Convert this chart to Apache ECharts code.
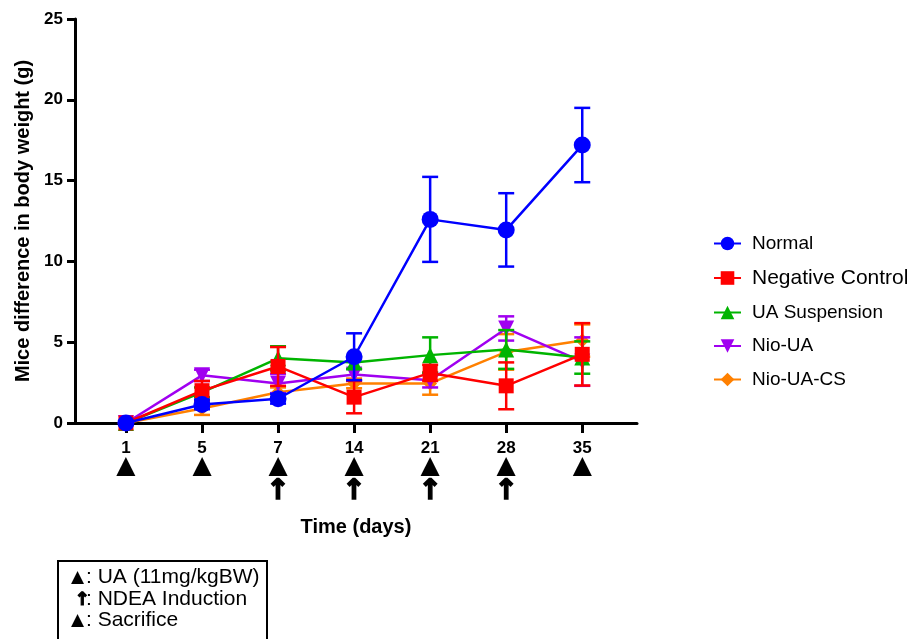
<!DOCTYPE html>
<html>
<head>
<meta charset="utf-8">
<script src="https://cdn.jsdelivr.net/npm/echarts@6/dist/echarts.min.js"></script>
<style>html,body{margin:0;padding:0;background:#fff}#c{width:918px;height:639px}</style>
</head>
<body>
<div id="c"></div>
<script>
const categories = ['1', '5', '7', '14', '21', '28', '35'];
const uaDoseDays = ['1', '5', '7', '14', '21', '28', '35'];
const ndeaDays = ['7', '14', '21', '28'];
const yTicks = [0, 5, 10, 15, 20, 25];

const normal = [0, 1.15, 1.5, 4.1, 12.6, 11.95, 17.2];
const normalErr = [0, 0.3, 0.3, 1.45, 2.63, 2.27, 2.3];
const negative = [0, 2.0, 3.5, 1.6, 3.1, 2.3, 4.25];
const negativeErr = [0, 0.6, 1.2, 1.0, 0.5, 1.45, 1.93];
const uaSusp = [0, 1.9, 4.0, 3.75, 4.2, 4.55, 4.05];
const uaSuspErr = [0, 0.3, 0.75, 0.4, 1.1, 1.2, 1.0];
const nioUA = [0, 2.95, 2.45, 3.0, 2.65, 5.85, 3.8];
const nioUAErr = [0, 0.35, 0.6, 0.35, 0.45, 0.75, 1.5];
const nioUACS = [0, 0.9, 1.9, 2.45, 2.45, 4.4, 5.1];
const nioUACSErr = [0, 0.4, 0.3, 0.3, 0.7, 1.1, 1.0];

const groups = [
  {name: 'Normal', vals: normal, err: normalErr, color: '#0000FF', symbol: 'circle', size: 17, rot: 0, z: 10},
  {name: 'Negative Control', vals: negative, err: negativeErr, color: '#FF0000', symbol: 'rect', size: 15, rot: 0, z: 9},
  {name: 'UA Suspension', vals: uaSusp, err: uaSuspErr, color: '#00B400', symbol: 'triangle', size: 16, rot: 0, z: 8},
  {name: 'Nio-UA', vals: nioUA, err: nioUAErr, color: '#A000F0', symbol: 'triangle', size: 16, rot: 180, z: 7},
  {name: 'Nio-UA-CS', vals: nioUACS, err: nioUACSErr, color: '#FF8000', symbol: 'diamond', size: 14, rot: 0, z: 6}
];

const chart = echarts.init(document.getElementById('c'));
const idx = categories.map((c, i) => i);

const series = [];
groups.forEach(g => {
  series.push({
    name: g.name, type: 'line', z: g.z,
    data: g.vals.map((v, i) => [i, v]),
    symbol: g.symbol, symbolSize: g.size, symbolRotate: g.rot,
    showAllSymbol: true,
    lineStyle: {color: g.color, width: 2.5},
    itemStyle: {color: g.color, borderWidth: 0}
  });
  series.push({
    name: g.name + ' SEM', type: 'custom', z: g.z - 0.5,
    data: g.vals.map((v, i) => [i, v - g.err[i], v + g.err[i]]),
    itemStyle: {color: g.color},
    renderItem: function (params, api) {
      const x = api.value(0);
      const lo = api.coord([x, api.value(1)]);
      const hi = api.coord([x, api.value(2)]);
      const w = 8;
      const st = {stroke: g.color, lineWidth: 2.5};
      return {type: 'group', children: [
        {type: 'line', shape: {x1: lo[0], y1: lo[1], x2: hi[0], y2: hi[1]}, style: st},
        {type: 'line', shape: {x1: hi[0] - w, y1: hi[1], x2: hi[0] + w, y2: hi[1]}, style: st},
        {type: 'line', shape: {x1: lo[0] - w, y1: lo[1], x2: lo[0] + w, y2: lo[1]}, style: st}
      ]};
    },
    silent: true
  });
});

const boxFont = '21px "Liberation Sans", Arial';

const option = {
  backgroundColor: '#fff',
  animation: false,
  grid: {left: 75, top: 19, right: 281, bottom: 216, containLabel: false},
  legend: {
    orient: 'vertical', left: 708, top: 229,
    itemWidth: 27, itemHeight: 17, itemGap: 14.5,
    data: groups.map(g => g.name),
    formatter: function (n) { return n === 'Negative Control' ? '{b|' + n + '}' : '{a|' + n + '}'; },
    textStyle: {
      color: '#000', padding: [0, 0, 0, 6],
      rich: {
        a: {fontFamily: 'Liberation Sans, Arial', fontSize: 19, color: '#000'},
        b: {fontFamily: 'Liberation Sans, Arial', fontSize: 21, color: '#000'}
      }
    }
  },
  xAxis: {
    type: 'value', min: -0.67, max: 6.72,
    name: 'Time (days)', nameLocation: 'middle', nameGap: 94,
    nameTextStyle: {fontFamily: 'Liberation Sans, Arial', fontWeight: 'bold', fontSize: 20, color: '#000'},
    axisLine: {show: true, onZero: false, lineStyle: {color: '#000', width: 3}},
    axisTick: {show: true, length: 10, lineStyle: {color: '#000', width: 3}, customValues: idx},
    splitLine: {show: false},
    axisLabel: {
      customValues: idx, margin: 16, verticalAlign: 'top', lineHeight: 18,
      formatter: function (v) {
        const c = categories[Math.round(v)];
        let s = '{n|' + c + '}';
        if (uaDoseDays.indexOf(c) >= 0) s += '\n{t|▲}';
        if (ndeaDays.indexOf(c) >= 0) s += '\n{a|↑}';
        return s;
      },
      rich: {
        n: {fontFamily: 'Liberation Sans, Arial', fontWeight: 'bold', fontSize: 17, color: '#000', lineHeight: 18},
        t: {fontFamily: 'DejaVu Sans', fontSize: 25, color: '#000', lineHeight: 19},
        a: {fontFamily: 'DejaVu Sans', fontWeight: 'bold', fontSize: 28, color: '#000', lineHeight: 32,
            textBorderColor: '#000', textBorderWidth: 1.5}
      }
    }
  },
  yAxis: {
    type: 'value', min: 0, max: 25, interval: 5,
    name: 'Mice difference in body weight (g)', nameLocation: 'middle', nameGap: 42,
    nameTextStyle: {fontFamily: 'Liberation Sans, Arial', fontWeight: 'bold', fontSize: 20, color: '#000'},
    axisLine: {show: true, onZero: false, lineStyle: {color: '#000', width: 3}},
    axisTick: {show: true, length: 8, lineStyle: {color: '#000', width: 3}},
    splitLine: {show: false},
    axisLabel: {
      margin: 12, color: '#000', fontFamily: 'Liberation Sans, Arial', fontWeight: 'bold', fontSize: 17,
      formatter: function (v) { return yTicks.indexOf(v) >= 0 ? String(v) : ''; }
    }
  },
  graphic: [
    {type: 'rect', left: 57, top: 560, shape: {width: 209, height: 100}, style: {fill: '#fff', stroke: '#000', lineWidth: 2}},
    {type: 'text', left: 71, top: 569, style: {text: '▲', font: '17px "DejaVu Sans"', fill: '#000'}},
    {type: 'text', left: 86, top: 567, style: {text: ': UA (11mg/kgBW)', font: boxFont, fill: '#000'}},
    {type: 'text', left: 74, top: 591, style: {text: '↑', font: 'bold 18px "DejaVu Sans"', fill: '#000', stroke: '#000', lineWidth: 1.2}},
    {type: 'text', left: 86, top: 589, style: {text: ': NDEA Induction', font: boxFont, fill: '#000'}},
    {type: 'text', left: 71, top: 612, style: {text: '▲', font: '17px "DejaVu Sans"', fill: '#000'}},
    {type: 'text', left: 86, top: 610, style: {text: ': Sacrifice', font: boxFont, fill: '#000'}}
  ],
  series: series
};
chart.setOption(option);
</script>
</body>
</html>
